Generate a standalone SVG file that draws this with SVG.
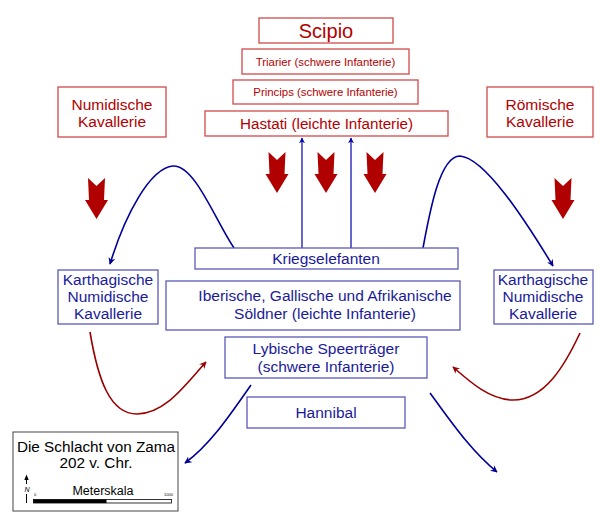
<svg xmlns="http://www.w3.org/2000/svg" width="600" height="525" viewBox="0 0 600 525">
<style>
.rb{fill:#fff;stroke:#d24a4a;stroke-width:1.3}
.bb{fill:#fff;stroke:#5a5ab8;stroke-width:1.3}
.rt{font-family:"Liberation Sans",Arial,sans-serif;fill:#b30000;text-anchor:middle}
.bt{font-family:"Liberation Sans",Arial,sans-serif;fill:#1a1a99;text-anchor:middle;font-size:15.5px}
.kt{font-family:"Liberation Sans",Arial,sans-serif;fill:#000;text-anchor:middle}
.bc{fill:none;stroke:#000099;stroke-width:1.6}
.rc{fill:none;stroke:#990000;stroke-width:1.6}
.bl{fill:none;stroke:#0000aa;stroke-width:1.2}
.ra{fill:#b00000}
</style>
<defs>
<marker id="mb" viewBox="0 0 10 10" refX="9" refY="5" markerWidth="7" markerHeight="7" orient="auto" markerUnits="userSpaceOnUse">
<path d="M0,0 L10,5 L0,10 L3,5 z" fill="#000099"/>
</marker>
<marker id="mr" viewBox="0 0 10 10" refX="9" refY="5" markerWidth="7" markerHeight="7" orient="auto" markerUnits="userSpaceOnUse">
<path d="M0,0 L10,5 L0,10 L3,5 z" fill="#990000"/>
</marker>
<marker id="mu" viewBox="0 0 10 10" refX="9" refY="5" markerWidth="6" markerHeight="6" orient="auto" markerUnits="userSpaceOnUse">
<path d="M0,0 L10,5 L0,10 L3,5 z" fill="#0000aa"/>
</marker>
<path id="ra" d="M3,0 L11.5,8 L20,0 L19,22 L23,22 L11.5,41 L0,22 L4,22 z"/>
</defs>

<g id="connectors">
<path class="bc" d="M234,248 C215,220 195,165 173,166 C150,168 125,215 110,264" marker-end="url(#mb)"/>
<path class="bc" d="M423,248 C430,210 440,156 460,156 C485,158 525,220 553,266" marker-end="url(#mb)"/>
<path class="rc" d="M90,332 C98,380 110,414 137,414 C165,414 185,385 206,362" marker-end="url(#mr)"/>
<path class="rc" d="M580,333 C565,365 545,400 513,400 C490,400 470,382 453,367" marker-end="url(#mr)"/>
<path class="bc" d="M251,385 C230,415 210,445 185,463" marker-end="url(#mb)"/>
<path class="bc" d="M430,393 C450,420 470,450 497,472" marker-end="url(#mb)"/>
<line class="bl" x1="302" y1="248" x2="302" y2="138" marker-end="url(#mu)"/>
<line class="bl" x1="351" y1="248" x2="351" y2="138" marker-end="url(#mu)"/>
<use href="#ra" class="ra" x="85" y="178"/>
<use href="#ra" class="ra" x="265.5" y="152"/>
<use href="#ra" class="ra" x="314.5" y="152"/>
<use href="#ra" class="ra" x="363.5" y="152"/>
<use href="#ra" class="ra" x="551.5" y="178"/>
</g>

<g id="scipio"><rect class="rb" x="259" y="18" width="134" height="25"/><text class="rt" x="326" y="38" font-size="20">Scipio</text></g>
<g id="triarier"><rect class="rb" x="242" y="49" width="167" height="25"/><text class="rt" x="325.5" y="65.5" font-size="11.4">Triarier (schwere Infanterie)</text></g>
<g id="princips"><rect class="rb" x="233" y="80" width="185" height="24"/><text class="rt" x="325.5" y="96" font-size="11.4">Princips (schwere Infanterie)</text></g>
<g id="hastati"><rect class="rb" x="205" y="111" width="243" height="25"/><text class="rt" x="326.5" y="129" font-size="15.2">Hastati (leichte Infanterie)</text></g>
<g id="numidische"><rect class="rb" x="58" y="87" width="108" height="50"/><text class="rt" x="112" y="110" font-size="15.5">Numidische</text><text class="rt" x="112" y="127" font-size="15.5">Kavallerie</text></g>
<g id="roemische"><rect class="rb" x="487" y="87" width="106" height="50"/><text class="rt" x="540" y="110" font-size="15.5">Römische</text><text class="rt" x="540" y="127" font-size="15.5">Kavallerie</text></g>

<g id="kriegselefanten"><rect class="bb" x="195" y="248" width="263" height="21"/><text class="bt" x="326" y="264">Kriegselefanten</text></g>
<g id="soeldner"><rect class="bb" x="166" y="281" width="294" height="49"/><text class="bt" x="325" y="300.5">Iberische, Gallische und Afrikanische</text><text class="bt" x="325" y="318.5">Söldner (leichte Infanterie)</text></g>
<g id="lybische"><rect class="bb" x="225" y="337" width="202" height="41"/><text class="bt" x="326" y="353.5">Lybische Speerträger</text><text class="bt" x="326" y="371.5">(schwere Infanterie)</text></g>
<g id="hannibal"><rect class="bb" x="247" y="397" width="158" height="31"/><text class="bt" x="326" y="417.5">Hannibal</text></g>
<g id="karth-left"><rect class="bb" x="58" y="270" width="100" height="54"/><text class="bt" x="108" y="284.5">Karthagische</text><text class="bt" x="108" y="302">Numidische</text><text class="bt" x="108" y="318.5">Kavallerie</text></g>
<g id="karth-right"><rect class="bb" x="494" y="270" width="99" height="54"/><text class="bt" x="543" y="284.5">Karthagische</text><text class="bt" x="543" y="302">Numidische</text><text class="bt" x="543" y="318.5">Kavallerie</text></g>

<g id="legend">
<rect x="13" y="432" width="165" height="79" fill="#fff" stroke="#444" stroke-width="1"/>
<text class="kt" x="96" y="452" font-size="15.3">Die Schlacht von Zama</text>
<text class="kt" x="96" y="468" font-size="15.3">202 v. Chr.</text>
<text class="kt" x="103" y="495" font-size="12.5">Meterskala</text>
<rect x="33.5" y="499.5" width="138" height="3.5" fill="#fff" stroke="#000" stroke-width="0.8"/>
<rect x="33.5" y="499.5" width="73" height="3.5" fill="#000"/>
<text x="34" y="496" font-family="Liberation Sans,sans-serif" font-size="4" fill="#000">0</text>
<text x="164" y="496" font-family="Liberation Sans,sans-serif" font-size="4" fill="#000">1000</text>
<line x1="26.5" y1="479" x2="26.5" y2="484" stroke="#000" stroke-width="1"/>
<path d="M24.3,480 L26.5,474.5 L28.7,480 z" fill="#000"/>
<text x="24.5" y="491.5" font-family="Liberation Sans,sans-serif" font-size="7" font-style="italic" fill="#000">N</text>
<line x1="26.5" y1="494" x2="26.5" y2="503" stroke="#000" stroke-width="1"/>
</g>
</svg>
